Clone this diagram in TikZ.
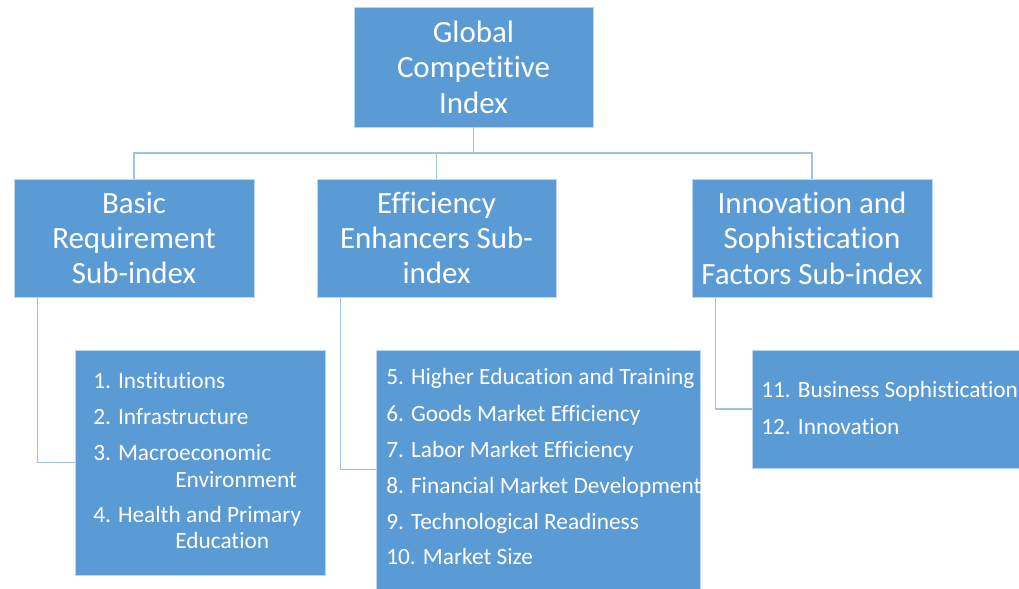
\documentclass[tikz,border=0pt]{standalone}
\usepackage{fontspec}
\setmainfont{Carlito}[Ligatures=CommonOff]
\definecolor{boxblue}{RGB}{91,155,213}
\definecolor{boxedge}{RGB}{189,215,238}
\definecolor{linkblue}{RGB}{160,194,228}
\tikzset{
  head/.style={draw=boxedge, line width=0.6pt, fill=boxblue, text=white, align=center,
    inner sep=0pt, font=\fontsize{22}{25.2}\selectfont},
  listbox/.style={draw=boxedge, line width=0.6pt, fill=boxblue, inner sep=0pt},
  item/.style={anchor=base west, inner sep=0pt, text=white, font=\fontsize{16.6}{19}\selectfont},
  link/.style={draw=linkblue, line width=1.2pt}
}
\begin{document}
\begin{tikzpicture}[x=0.025cm, y=-0.025cm]
\useasboundingbox (0,0) rectangle (1019,589);
\clip (0,0) rectangle (1019,589);
% index and sub-index boxes
\node[head, minimum width=5.975cm, minimum height=3cm] (gci) at (473.5,67) {Global\\Competitive\\Index};
\node[head, minimum width=6cm, minimum height=2.95cm] (basic) at (134,238) {Basic\\Requirement\\Sub-index};
\node[head, minimum width=5.975cm, minimum height=2.95cm] (effic) at (436.5,238) {Efficiency\\Enhancers Sub-\\index};
\node[head, minimum width=6cm, minimum height=2.95cm] (innov) at (812,238) {Innovation and\\Sophistication\\Factors Sub-index};
% pillar boxes
\node[listbox, minimum width=6.25cm, minimum height=5.625cm] (basiclist) at (200,462.5) {};
\node[listbox, minimum width=8.1cm, minimum height=5.975cm] (efficlist) at (538,469.5) {};
\node[listbox, minimum width=7cm, minimum height=2.95cm] (innovlist) at (892,409) {};
% pillars
\foreach \x/\y/\txt [count=\i] in {93/389/1. Institutions, 93/425/2. Infrastructure,
    93/460/3. Macroeconomic, 175/487/Environment, 93/522/4. Health and Primary, 175/548/Education}
  \node[item] (b\i) at (\x,\y) {\txt};
\foreach \y/\txt [count=\i] in {385/5. Higher Education and Training, 421/6. Goods Market Efficiency,
    457/7. Labor Market Efficiency, 493/8. Financial Market Development,
    529/9. Technological Readiness, 564/10. Market Size}
  \node[item] (e\i) at (386,\y) {\txt};
\foreach \y/\txt [count=\i] in {398/11. Business Sophistication, 434/12. Innovation}
  \node[item] (n\i) at (761,\y) {\txt};
% connectors
\coordinate (bus) at (473.5,153);
\draw[link] (gci.south) -- (bus);
\draw[link] (basic.north) |- (bus) -| (innov.north);
\draw[link] (effic.north) -- (effic.north |- bus);
\draw[link] ([xshift=0.6cm]basic.south west) |- (basiclist.west);
\draw[link] ([xshift=0.6cm]effic.south west) |- (efficlist.west);
\draw[link] ([xshift=0.6cm]innov.south west) |- (innovlist.west);
\end{tikzpicture}
\end{document}
